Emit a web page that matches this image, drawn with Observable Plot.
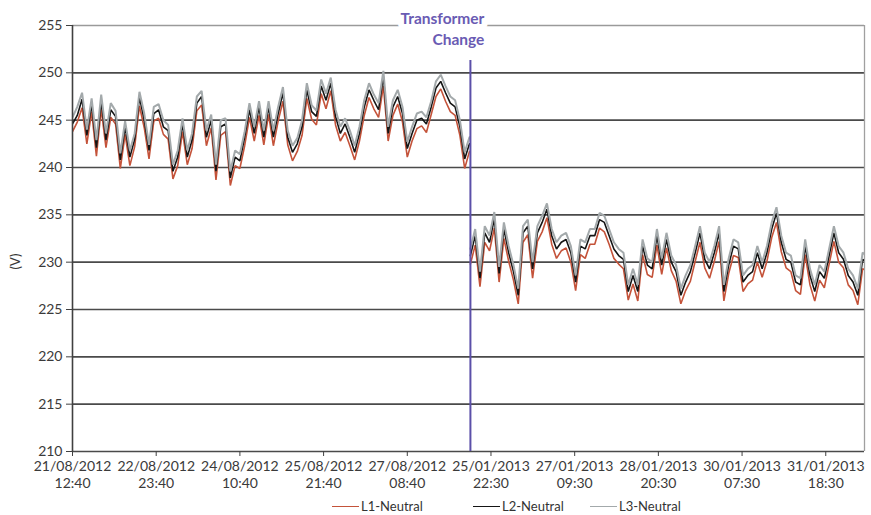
<!DOCTYPE html>
<html><head><meta charset="utf-8">
<script src="https://cdn.jsdelivr.net/npm/d3@7"></script>
<script src="https://cdn.jsdelivr.net/npm/@observablehq/plot@0.6"></script>
<style>
body{margin:0;background:#fff;font-family:Lato,sans-serif;}
#wrap{position:relative;width:871px;height:515px;overflow:hidden;}
#legend{position:absolute;top:497px;left:0;width:871px;height:18px;font-size:13px;color:#333;}
.item{position:absolute;top:0;display:flex;align-items:center;height:18px;}
.sw{display:inline-block;width:27px;height:0;border-top:1.5px solid;margin-right:2px;}
</style></head><body><div id="wrap"></div>
<script>
// Series names and colours
const seriesNames = ["L1-Neutral", "L2-Neutral", "L3-Neutral"];
const seriesColors = ["#c4533a", "#151515", "#a3a9ab"];

// 2-hour samples, August 2012 (before transformer change)
const L1_aug = [243.8,244.8,246.3,242.5,245.9,241.2,246.2,242.1,245.3,244.6,
239.9,243.5,240.2,242.2,246.5,244.2,240.9,244.9,245.2,243.5,
243.0,238.8,240.2,243.8,240.3,242.0,246.0,246.6,242.3,244.2,
238.7,243.4,243.8,238.1,240.2,239.9,242.3,245.3,242.8,245.5,
242.4,245.6,242.3,244.9,247.0,242.4,240.7,241.7,243.4,247.3,
245.1,244.5,247.8,246.2,248.1,244.5,242.8,243.7,242.3,240.8,
242.8,245.5,247.4,246.2,245.3,248.6,242.8,245.5,246.7,244.8,
241.1,242.8,244.1,244.4,243.7,245.6,247.5,248.3,247.0,245.9,
245.5,243.4,239.9,241.7];
const L2_aug = [244.6,245.5,247.2,243.4,246.7,242.1,247.0,242.9,246.1,245.4,
240.8,244.3,241.1,243.0,247.4,245.0,241.8,245.7,246.1,244.3,
243.9,239.6,241.1,244.6,241.1,242.9,246.8,247.5,243.2,245.0,
239.6,244.3,244.6,238.9,241.1,240.7,243.2,246.1,243.6,246.4,
243.2,246.4,243.2,245.7,247.9,243.2,241.6,242.5,244.3,248.2,
245.9,245.4,248.6,247.1,248.9,245.4,243.6,244.6,243.2,241.6,
243.6,246.4,248.2,247.1,246.1,249.6,243.6,246.4,247.5,245.7,
242.0,243.6,245.0,245.2,244.6,246.4,248.4,249.1,247.9,246.8,
246.4,244.3,240.9,242.5];
const L3_aug = [245.3,246.4,247.9,244.0,247.3,242.9,247.7,243.6,246.8,246.0,
241.5,244.9,241.8,243.6,248.0,245.7,242.4,246.4,246.7,245.0,
244.5,240.3,241.8,245.2,241.8,243.6,247.5,248.1,243.9,245.6,
240.3,245.0,245.2,239.6,241.8,241.4,243.8,246.8,244.3,247.0,
243.9,247.0,243.9,246.4,248.5,243.9,242.3,243.1,245.0,248.9,
246.6,246.0,249.3,247.8,249.5,246.1,244.3,245.2,243.9,242.3,
244.3,247.1,248.9,247.7,246.8,250.2,244.3,247.1,248.2,246.4,
242.7,244.3,245.7,245.9,245.3,247.0,249.1,249.8,248.6,247.5,
247.1,245.0,241.6,243.2];

// 2-hour samples, January 2013 (after transformer change)
const L1_jan = [229.8,231.8,227.4,232.1,231.2,233.6,227.9,232.5,230.1,228.1,
225.6,232.1,232.9,228.3,232.2,233.2,234.7,231.9,230.4,231.2,
231.5,230.0,227.0,230.8,230.4,231.9,231.9,233.6,233.2,231.9,
230.4,229.8,229.3,226.0,227.7,225.9,230.8,228.7,228.4,231.8,
228.7,231.5,229.1,228.0,225.6,227.0,228.0,230.1,232.1,229.4,
228.3,230.1,232.2,225.9,228.8,230.7,230.5,226.9,227.7,228.1,
230.0,228.4,230.1,232.6,234.2,231.1,229.4,229.0,227.0,226.6,
230.8,227.6,225.9,228.1,227.3,229.8,232.2,230.0,229.4,227.6,
227.0,225.5,229.3,229.1];
const L2_jan = [230.7,232.8,228.3,233.1,232.1,234.6,228.8,233.5,231.0,229.0,
226.5,233.1,233.8,229.3,233.1,234.2,235.6,232.8,231.4,232.1,
232.4,231.0,227.9,231.7,231.4,232.8,232.8,234.5,234.2,232.8,
231.4,230.7,230.3,226.9,228.6,226.9,231.7,229.7,229.3,232.8,
229.7,232.4,230.0,229.0,226.5,227.9,229.0,231.0,233.1,230.3,
229.3,231.0,233.1,226.9,229.7,231.7,231.4,227.9,228.6,229.0,
231.0,229.3,231.0,233.5,235.2,232.1,230.3,230.0,227.9,227.6,
231.7,228.6,226.9,229.0,228.3,230.7,233.1,231.0,230.3,228.6,
227.9,226.5,230.3,230.0];
const L3_jan = [231.4,233.5,229.0,233.8,232.8,235.3,229.5,234.2,231.7,229.7,
227.2,233.8,234.5,230.0,233.8,234.9,236.2,233.5,232.1,232.8,
233.1,231.7,228.6,232.4,232.1,233.5,233.5,235.2,234.9,233.5,
232.1,231.4,231.0,227.6,229.3,227.6,232.4,230.4,230.0,233.5,
230.4,233.1,230.7,229.7,227.2,228.6,229.7,231.7,233.8,231.0,
230.0,231.7,233.8,227.6,230.4,232.4,232.1,228.6,229.3,229.7,
231.7,230.0,231.7,234.2,235.8,232.8,231.0,230.7,228.6,228.3,
232.4,229.3,227.6,229.7,229.0,231.4,233.8,231.7,231.0,229.3,
228.6,227.2,231.0,230.7];

// Category axis (sample index; 1 step = 2 hours, labels every 35 hours)
const janStartIndex = 83.2;
const lastIndex = 165.6;
const tickIndex = [0, 17.5, 35, 52.5, 70, 87.5, 105, 122.5, 140, 157.5];
const tickLabels = ["21/08/2012\n12:40","22/08/2012\n23:40","24/08/2012\n10:40","25/08/2012\n21:40","27/08/2012\n08:40",
  "25/01/2013\n22:30","27/01/2013\n09:30","28/01/2013\n20:30","30/01/2013\n07:30","31/01/2013\n18:30"];
const yTicks = [210,215,220,225,230,235,240,245,250,255];
const changeLabel = "Transformer\nChange";

const bySeries = {
  "L1-Neutral": [L1_aug, L1_jan],
  "L2-Neutral": [L2_aug, L2_jan],
  "L3-Neutral": [L3_aug, L3_jan]
};
const rows = [];
for (const s of seriesNames) {
  const [a, j] = bySeries[s];
  a.forEach((v, k) => rows.push({s, i: k, v, key: s + "a"}));
  j.forEach((v, k) => rows.push({s, i: janStartIndex + k, v, key: s + "j"}));
}
const widths = {"L1-Neutral": 1.6, "L2-Neutral": 1.6, "L3-Neutral": 2.0};

const chart = Plot.plot({
  width: 871, height: 495,
  marginLeft: 72, marginRight: 7, marginTop: 25, marginBottom: 44,
  style: {fontFamily: "Lato, sans-serif", fontSize: "14px", color: "#3a3a3a", background: "#fff"},
  x: {domain: [0, lastIndex], axis: null},
  y: {domain: [210, 255], axis: null},
  color: {domain: seriesNames, range: seriesColors},
  marks: [
    Plot.ruleY(yTicks.filter(t => t < 255), {stroke: "#4a4a4a", strokeWidth: 1.6}),
    Plot.ruleY([255], {stroke: "#9a9a9a", strokeWidth: 1.3}),
    Plot.ruleX([lastIndex], {stroke: "#a0a0a0", strokeWidth: 1.3}),
    ...seriesNames.map(s => Plot.line(rows.filter(r => r.s === s),
      {x: "i", y: "v", z: "key", stroke: "s", strokeWidth: widths[s], strokeLinejoin: "miter", clip: true})),
    Plot.ruleX([janStartIndex], {y1: 251.3, y2: 210, stroke: "#5b4fa8", strokeWidth: 2}),
    Plot.text([changeLabel], {x: janStartIndex, y: 255, text: d => d, textAnchor: "end", dx: 14, dy: 2,
      lineHeight: 1.4, fontSize: 15.5, fontWeight: "bold", fill: "#6a5bb3",
      stroke: "#fff", strokeWidth: 12}),
    Plot.ruleX([0], {stroke: "#404040", strokeWidth: 1.6}),
    Plot.axisY({ticks: yTicks, label: null, tickSize: 6, tickPadding: 4, stroke: "#404040", fontSize: 14}),
    Plot.axisX({ticks: tickIndex, label: null, tickFormat: (d, i) => tickLabels[i], tickSize: 5, tickPadding: 3,
      lineHeight: 1.2, stroke: "#404040", fontSize: 14}),
    Plot.text(["(V)"], {frameAnchor: "left", dx: -57, dy: 31, rotate: -90, fontSize: 13})
  ]
});
const wrap = document.getElementById("wrap");
wrap.appendChild(chart);

const legend = document.createElement("div");
legend.id = "legend";
const legendLeft = [332, 473, 590];
seriesNames.forEach((n, k) => {
  const it = document.createElement("div");
  it.className = "item";
  it.style.left = legendLeft[k] + "px";
  const sw = document.createElement("span");
  sw.className = "sw";
  sw.style.borderTopColor = seriesColors[k];
  it.appendChild(sw);
  it.appendChild(document.createTextNode(n));
  legend.appendChild(it);
});
wrap.appendChild(legend);
</script></body></html>
